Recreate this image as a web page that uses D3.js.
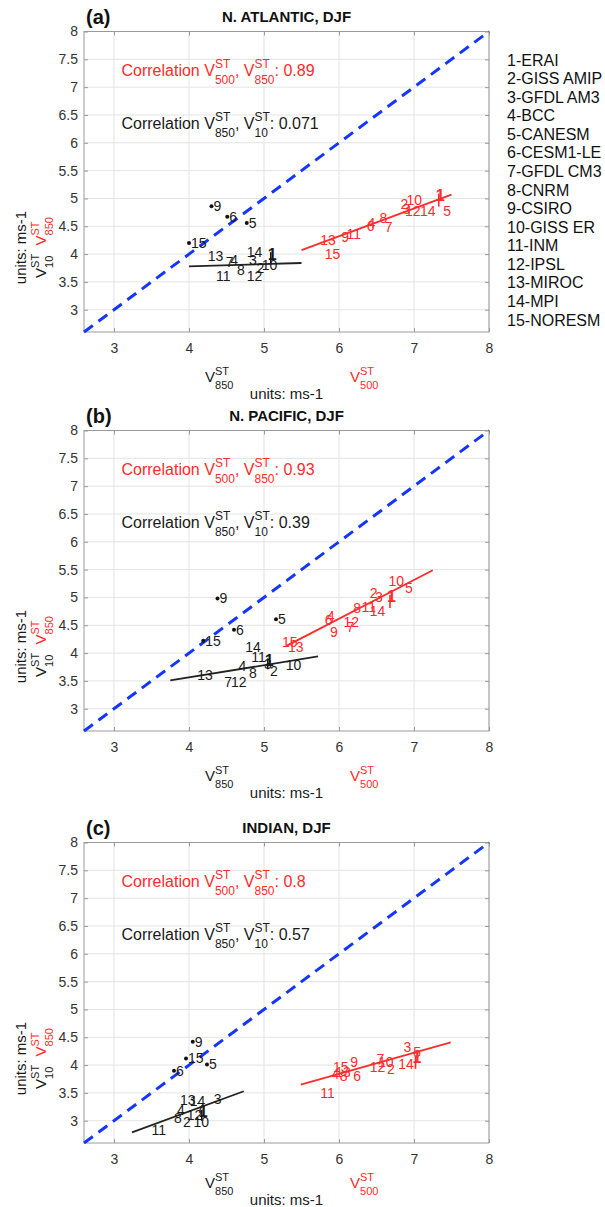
<!DOCTYPE html>
<html><head><meta charset="utf-8">
<script src="https://cdn.jsdelivr.net/npm/d3@7"></script>
<style>
body{margin:0;background:#fff}
text{font-family:"Liberation Sans",Arial,Helvetica,sans-serif;white-space:pre}
</style>
</head><body>
<svg id="chart" width="605" height="1207"></svg>
<script>
// ---------------- data ----------------
const modelNames = ["1-ERAI","2-GISS AMIP","3-GFDL AM3","4-BCC","5-CANESM","6-CESM1-LE","7-GFDL CM3","8-CNRM","9-CSIRO","10-GISS ER","11-INM","12-IPSL","13-MIROC","14-MPI","15-NORESM"];
const modelIds = ["1","2","3","4","5","6","7","8","9","10","11","12","13","14","15"];
const dottedModels = ["5","6","9","15"];
const panelTags = ["(a)","(b)","(c)"];
const panelTitles = ["N. ATLANTIC, DJF","N. PACIFIC, DJF","INDIAN, DJF"];
const xTicks = [3,4,5,6,7,8];
const yTicks = [3,3.5,4,4.5,5,5.5,6,6.5,7,7.5,8];
const axisDomain = [2.6,8];
const corr500_850 = ["0.89","0.93","0.8"];
const corr850_10 = ["0.071","0.39","0.57"];

// panel (a) N. Atlantic
const v850_a = [5.05,4.90,4.80,4.55,4.77,4.51,4.49,4.64,4.30,4.97,4.36,4.77,4.25,4.77,4.00];
const v10_a  = [4.00,3.75,3.90,3.90,4.56,4.67,3.85,3.72,4.86,3.80,3.61,3.61,3.97,4.04,4.20];
const v500_a = [7.29,6.82,6.85,6.38,7.39,6.37,6.61,6.54,6.03,6.90,6.10,6.88,5.75,7.08,5.81];
const fitBlack_a = [[4.0,3.78],[5.5,3.84]];
const fitRed_a   = [[5.5,4.07],[7.5,5.07]];
// panel (b) N. Pacific
const v850_b = [5.01,5.08,5.00,4.66,5.16,4.60,4.47,4.80,4.38,5.29,4.83,4.56,4.11,4.75,4.19];
const v10_b  = [3.87,3.68,3.80,3.77,4.61,4.42,3.48,3.64,4.98,3.79,3.92,3.48,3.60,4.10,4.22];
const v500_b = [6.64,6.41,6.48,5.84,6.88,5.81,6.10,6.19,5.88,6.66,6.30,6.06,5.32,6.41,5.24];
const fitBlack_b = [[3.75,3.51],[5.72,3.94]];
const fitRed_b   = [[5.3,4.13],[7.25,5.49]];
// panel (c) Indian
const v850_c = [4.13,3.92,4.33,3.84,4.24,3.80,4.10,3.80,4.05,4.06,3.50,3.97,3.88,4.01,3.96];
const v10_c  = [3.16,2.98,3.39,3.20,4.01,3.90,3.22,3.04,4.42,2.98,2.83,3.10,3.37,3.35,4.12];
const v500_c = [6.98,6.64,6.86,5.90,6.99,6.19,6.50,6.01,6.15,6.52,5.75,6.41,5.95,6.79,5.92];
const fitBlack_c = [[3.24,2.79],[4.73,3.53]];
const fitRed_c   = [[5.49,3.65],[7.49,4.41]];

const panels = [
  {v850:v850_a,v10:v10_a,v500:v500_a,fitB:fitBlack_a,fitR:fitRed_a},
  {v850:v850_b,v10:v10_b,v500:v500_b,fitB:fitBlack_b,fitR:fitRed_b},
  {v850:v850_c,v10:v10_c,v500:v500_c,fitB:fitBlack_c,fitR:fitRed_c}
];

// ---------------- layout ----------------
const RED = "#ff2b2b", BLACK = "#1a1a1a", BLUE = "#1436ff";
const left = 84, right = 489, plotH = 300.5;
const tops = [31.5, 430.5, 842.5];
const xlabShift = [5, 5, 0];
const svg = d3.select("#chart");

function rich(parent, parts, opt){
  const g = parent.append("g");
  let x = 0;
  for (const p of parts){
    const col = p.color || opt.color;
    if (p.t !== undefined){
      const t = g.append("text").attr("x",x).attr("y",0).attr("font-size",opt.size).attr("fill",col).text(p.t);
      x += t.node().getComputedTextLength();
    } else {
      const a = g.append("text").attr("x",x).attr("y",-opt.supDy).attr("font-size",opt.subSize).attr("fill",col).text(p.sup);
      const b = g.append("text").attr("x",x).attr("y",opt.subDy).attr("font-size",opt.subSize).attr("fill",col).text(p.sub);
      x += Math.max(a.node().getComputedTextLength(), b.node().getComputedTextLength());
    }
  }
  if (opt.anchor === "middle"){
    g.selectAll("text").attr("x", function(){ return +this.getAttribute("x") - x/2; });
  }
  return g;
}

panels.forEach((P, pi) => {
  const top = tops[pi], bottom = top + plotH;
  const x = d3.scaleLinear().domain(axisDomain).range([left, right]);
  const y = d3.scaleLinear().domain(axisDomain).range([bottom, top]);
  const g = svg.append("g");

  // grid
  g.append("g").selectAll("line").data(xTicks).join("line")
    .attr("x1",d=>x(d)).attr("x2",d=>x(d)).attr("y1",top).attr("y2",bottom)
    .attr("stroke","#e3e3e3").attr("stroke-width",1);
  g.append("g").selectAll("line").data(yTicks).join("line")
    .attr("y1",d=>y(d)).attr("y2",d=>y(d)).attr("x1",left).attr("x2",right)
    .attr("stroke","#e3e3e3").attr("stroke-width",1);

  // axes
  const ax = g.append("g").attr("transform",`translate(0,${bottom})`)
    .call(d3.axisBottom(x).tickValues(xTicks).tickFormat(d3.format("d")).tickSizeInner(-4).tickSizeOuter(0).tickPadding(11));
  const ay = g.append("g").attr("transform",`translate(${left},0)`)
    .call(d3.axisLeft(y).tickValues(yTicks).tickFormat(d=>String(d)).tickSizeInner(-4).tickSizeOuter(0).tickPadding(6));
  const axT = g.append("g").attr("transform",`translate(0,${top})`)
    .call(d3.axisTop(x).tickValues(xTicks).tickFormat("").tickSizeInner(-4).tickSizeOuter(0));
  const ayR = g.append("g").attr("transform",`translate(${right},0)`)
    .call(d3.axisRight(y).tickValues(yTicks).tickFormat("").tickSizeInner(-4).tickSizeOuter(0));
  [ax,ay,axT,ayR].forEach(a=>{
    a.select(".domain").remove();
    a.selectAll("line").attr("stroke","#9a9a9a");
    a.selectAll("text").attr("font-size",14).attr("fill","#333").attr("font-family","Liberation Sans, Arial, sans-serif");
  });
  g.append("rect").attr("x",left).attr("y",top).attr("width",right-left).attr("height",plotH)
    .attr("fill","none").attr("stroke","#9a9a9a").attr("stroke-width",1);

  // 1:1 dashed line
  g.append("line").attr("x1",x(axisDomain[0])).attr("y1",y(axisDomain[0]))
    .attr("x2",x(axisDomain[1])).attr("y2",y(axisDomain[1]))
    .attr("stroke",BLUE).attr("stroke-width",3).attr("stroke-dasharray","11,7");

  // fit lines
  const ln = d3.line().x(d=>x(d[0])).y(d=>y(d[1]));
  g.append("path").attr("d",ln(P.fitB)).attr("stroke","#222").attr("stroke-width",1.8).attr("fill","none");
  g.append("path").attr("d",ln(P.fitR)).attr("stroke",RED).attr("stroke-width",1.8).attr("fill","none");

  // dots for selected models
  const idx = modelIds.map((m,i)=>i);
  g.append("g").selectAll("circle").data(idx.filter(i=>dottedModels.includes(modelIds[i]))).join("circle")
    .attr("cx",i=>x(P.v850[i])).attr("cy",i=>y(P.v10[i])).attr("r",2).attr("fill","#111");

  // labels: black (V850, V10), red (V500, V850)
  const lab = (sel, col, fx, fy) => sel.selectAll("text").data(idx).join("text")
    .attr("x",i=>fx(i) + (col===BLACK && dottedModels.includes(modelIds[i]) ? 2 : 0))
    .attr("y",i=>fy(i)).attr("dy","0.35em")
    .attr("font-size",i=>i===0?16:14).attr("font-weight",i=>i===0?"bold":"normal")
    .attr("fill",col).text(i=>modelIds[i]);
  lab(g.append("g"), BLACK, i=>x(P.v850[i]), i=>y(P.v10[i]));
  lab(g.append("g"), RED, i=>x(P.v500[i]), i=>y(P.v850[i]));
  // ERAI vertical marks
  g.append("line").attr("x1",x(P.v850[0])+3).attr("x2",x(P.v850[0])+3)
    .attr("y1",y(P.v10[0])-2).attr("y2",y(P.v10[0])+9).attr("stroke",BLACK).attr("stroke-width",1.6);
  g.append("line").attr("x1",x(P.v500[0])+3).attr("x2",x(P.v500[0])+3)
    .attr("y1",y(P.v850[0])-2).attr("y2",y(P.v850[0])+11).attr("stroke",RED).attr("stroke-width",1.6);

  // correlation texts
  const cOpt = {size:16,subSize:12,supDy:8,subDy:8};
  rich(g,[{t:"Correlation V"},{sup:"ST",sub:"500"},{t:", V"},{sup:"ST",sub:"850"},{t:": "+corr500_850[pi]}],
       Object.assign({color:RED},cOpt)).attr("transform",`translate(${x(3.1)},${y(7.3)+5.5})`);
  rich(g,[{t:"Correlation V"},{sup:"ST",sub:"850"},{t:", V"},{sup:"ST",sub:"10"},{t:": "+corr850_10[pi]}],
       Object.assign({color:BLACK},cOpt)).attr("transform",`translate(${x(3.1)},${y(6.35)+5.5})`);

  // titles
  g.append("text").attr("x",86).attr("y",top-15).attr("dy","0.35em").attr("font-size",20).attr("font-weight","bold")
    .attr("fill","#111").text(panelTags[pi]);
  g.append("text").attr("x",(left+right)/2).attr("y",top-15).attr("dy","0.35em").attr("text-anchor","middle")
    .attr("font-size",15).attr("font-weight","bold").attr("fill","#111").text(panelTitles[pi]);

  // y label
  const lOpt = {size:15,subSize:11,supDy:7,subDy:7};
  const yl1 = g.append("g").attr("transform",`translate(26,${top+216}) rotate(-90)`);
  rich(yl1,[{t:"units: ms-1"}],Object.assign({color:BLACK,anchor:"middle"},lOpt));
  const yl2 = g.append("g").attr("transform",`translate(46,${top+216}) rotate(-90)`);
  rich(yl2,[{t:"V"},{sup:"ST",sub:"10"},{t:"  "},{t:"V",color:RED},{sup:"ST",sub:"850",color:RED}],
       Object.assign({color:BLACK,anchor:"middle"},lOpt));

  // x label
  const sh = xlabShift[pi];
  rich(g,[{t:"V"},{sup:"ST",sub:"850"}],Object.assign({color:BLACK},lOpt)).attr("transform",`translate(205,${bottom+45+sh})`);
  rich(g,[{t:"V"},{sup:"ST",sub:"500"}],Object.assign({color:RED},lOpt)).attr("transform",`translate(350,${bottom+45+sh})`);
  g.append("text").attr("x",(left+right)/2).attr("y",bottom+62+sh).attr("text-anchor","middle")
    .attr("font-size",15).attr("fill",BLACK).text("units: ms-1");
});

// legend
svg.append("g").selectAll("text").data(modelNames).join("text")
  .attr("x",507).attr("y",(d,i)=>60+i*18.57).attr("dy","0.35em")
  .attr("font-size",16).attr("fill","#111").text(d=>d);
</script>
</body></html>
